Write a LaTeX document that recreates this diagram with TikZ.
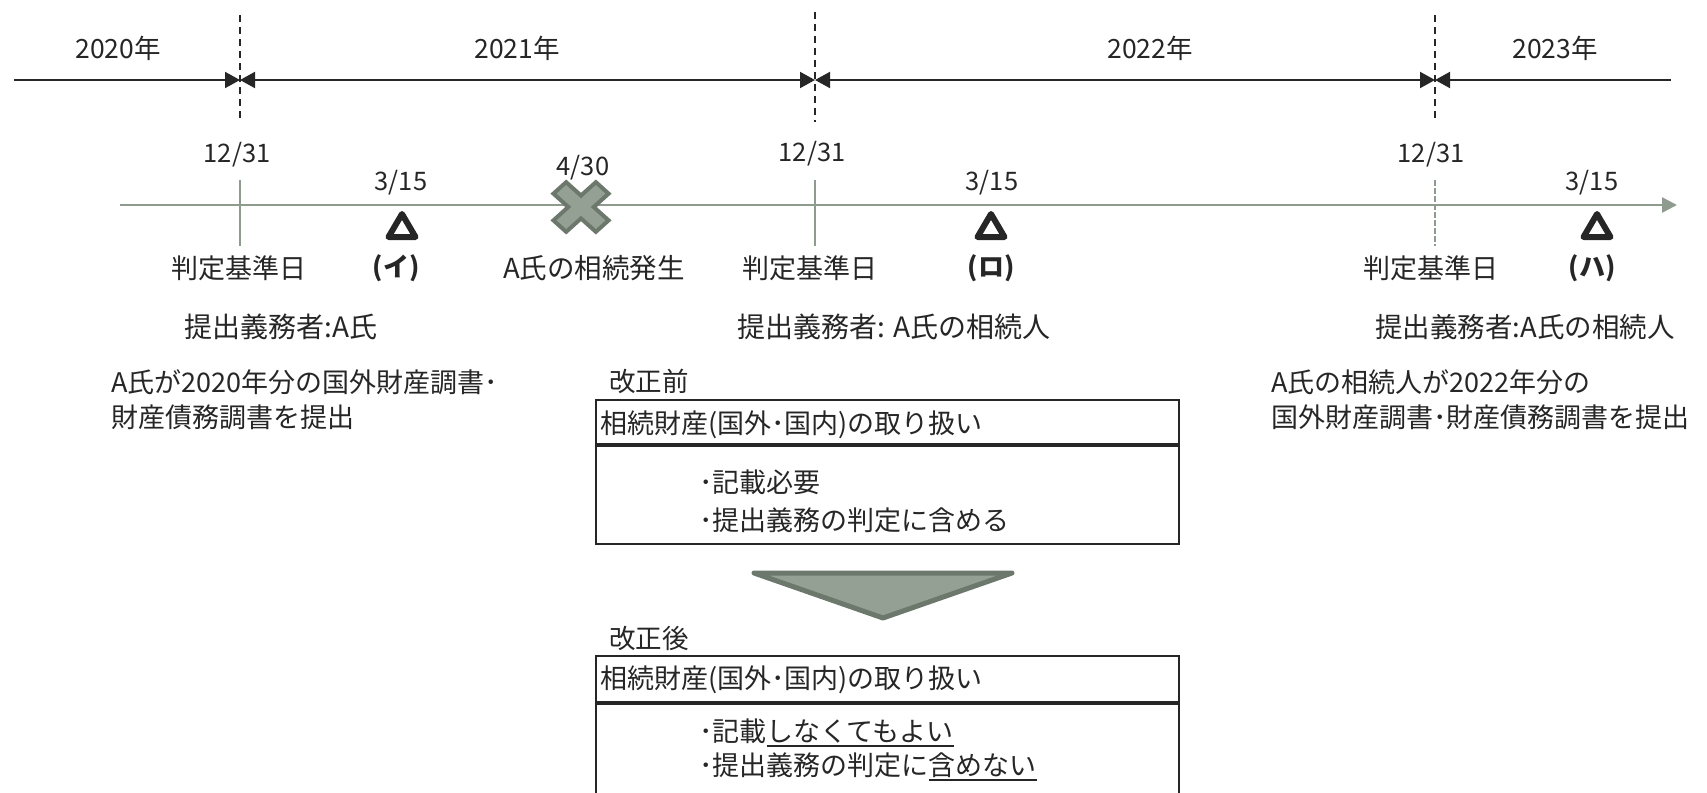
\documentclass[tikz,border=0pt]{standalone}
\usepackage{fontspec}
\setmainfont{Noto Sans CJK JP}
\usetikzlibrary{arrows.meta}
\definecolor{ink}{HTML}{262626}
\definecolor{tlc}{HTML}{8F9B8F}
\definecolor{mk}{HTML}{95A095}
\definecolor{mkd}{HTML}{6D786D}
\newcommand\myul[1]{\setbox0\hbox{#1}\rlap{\rule[-6pt]{\wd0}{2pt}}\box0}
\tikzset{ytip/.tip={Triangle[length=15pt,width=16pt]}}
\begin{document}
\begin{tikzpicture}[x=1pt,y=-1pt,
  txt/.style={inner sep=0pt, text=ink, font=\fontsize{#1}{#1}\selectfont},
  txt/.default=27,
  btxt/.style={inner sep=0pt, text=ink, font=\fontsize{26}{26}\selectfont\bfseries},
  topline/.style={draw=ink, line width=2pt},
  yeardash/.style={draw=ink, line width=1.8pt, dash pattern=on 7pt off 5pt},
  tline/.style={draw=tlc, line width=2.5pt},
  tick/.style={draw=tlc, line width=2pt},
  tri/.style={draw=ink, line width=6pt, line join=round},
  cross/.style={draw=mkd, fill=mk, line width=4pt, line join=miter},
  bigtri/.style={draw=mkd, fill=mk, line width=5pt, line join=round},
  cell/.style={draw=ink, line width=1.8pt, inner sep=0pt, minimum width=583pt}]
\useasboundingbox (0,0) rectangle (1707,792);

% year labels
\node[txt=26.5] (y2020) at (118,48) {2020年};
\node[txt=26.5] (y2021) at (517,48) {2021年};
\node[txt=26.5] (y2022) at (1150,48) {2022年};
\node[txt=26.5] (y2023) at (1555,48) {2023年};

% year boundaries
\coordinate (d1a) at (240,15);  \coordinate (d1b) at (240,122);
\coordinate (d2a) at (815,12);  \coordinate (d2b) at (815,122);
\coordinate (d3a) at (1435,15); \coordinate (d3b) at (1435,122);
\draw[yeardash] (d1a) -- (d1b);
\draw[yeardash] (d2a) -- (d2b);
\draw[yeardash] (d3a) -- (d3b);

\coordinate (s0) at (14,80);
\coordinate (s1) at (240,80);
\coordinate (s2) at (815,80);
\coordinate (s3) at (1435,80);
\coordinate (s4) at (1671,80);
\draw[topline, -{ytip}] (s0) -- (s1);
\draw[topline, {ytip}-{ytip}] (s1) -- (s2);
\draw[topline, {ytip}-{ytip}] (s2) -- (s3);
\draw[topline, {ytip}-] (s3) -- (s4);

% timeline
\coordinate (t0) at (120,205);
\coordinate (t1) at (1677,205);
\draw[tline, -{Triangle[length=15pt,width=15pt]}] (t0) -- (t1);

\coordinate (k1a) at (240,180);  \coordinate (k1b) at (240,246);
\coordinate (k2a) at (815,180);  \coordinate (k2b) at (815,246);
\coordinate (k3a) at (1435,180); \coordinate (k3b) at (1435,246);
\draw[tick] (k1a) -- (k1b);
\draw[tick] (k2a) -- (k2b);
\draw[tick, dash pattern=on 6pt off 2pt] (k3a) -- (k3b);

% dates
\node[txt=25.5] (e1) at (237,155) {12/31};
\node[txt=25.5] (e2) at (812,154) {12/31};
\node[txt=25.5] (e3) at (1431,155) {12/31};
\node[txt=25.5] (f1) at (401,183) {3/15};
\node[txt=25.5] (f2) at (992,183) {3/15};
\node[txt=25.5] (f3) at (1592,183) {3/15};
\node[txt=25.5] (g1) at (583,168) {4/30};

% markers
\draw[tri] (402,214) -- ++(13.5,23) -- ++(-27,0) -- cycle;
\draw[tri] (991,214) -- ++(13.5,23) -- ++(-27,0) -- cycle;
\draw[tri] (1597,214) -- ++(13.5,23) -- ++(-27,0) -- cycle;
\draw[cross, shift={(581,207)}, yscale=0.9, rotate=45]
  (-9,-30) -- (9,-30) -- (9,-9) -- (30,-9) -- (30,9) -- (9,9) -- (9,30)
  -- (-9,30) -- (-9,9) -- (-30,9) -- (-30,-9) -- (-9,-9) -- cycle;

% labels under the timeline
\node[txt] (j1) at (239,268) {判定基準日};
\node[txt] (j2) at (810,268) {判定基準日};
\node[txt] (j3) at (1431,268) {判定基準日};
\node[btxt] (m1) at (396,268) {(イ)};
\node[btxt] (m2) at (991,268) {(ロ)};
\node[btxt] (m3) at (1592,268) {(ハ)};
\node[txt=27.5] (death) at (594,268) {A氏の相続発生};

\node[txt=28] (p1) at (281,327) {提出義務者:A氏};
\node[txt=28] (p2) at (894,327) {提出義務者: A氏の相続人};
\node[txt=27.5] (p3) at (1525,327) {提出義務者:A氏の相続人};

\node[txt, anchor=west] (q1a) at (111,382) {A氏が2020年分の国外財産調書･};
\node[txt, anchor=west] (q1b) at (111,417) {財産債務調書を提出};
\node[txt, anchor=west] (q3a) at (1271,382) {A氏の相続人が2022年分の};
\node[txt, anchor=west] (q3b) at (1271,417) {国外財産調書･財産債務調書を提出};

% before box
\node[txt=26.5, anchor=west] (bef) at (609,381) {改正前};
\node[cell, anchor=north west, minimum height=44pt] (h1) at (595,399) {};
\node[cell, anchor=north west, minimum height=98pt] (b1) at (h1.south west) {};
\node[txt, anchor=west] (h1t) at (600,425) {相続財産(国外･国内)の取り扱い};
\node[txt, anchor=west] (b1a) at (699,482) {･記載必要};
\node[txt, anchor=west] (b1b) at (699,520) {･提出義務の判定に含める};

% arrow
\draw[bigtri] (754,573) -- (1012,573) -- (883,618) -- cycle;

% after box
\node[txt=26.5, anchor=west] (aft) at (609,638) {改正後};
\node[cell, anchor=north west, minimum height=46pt] (h2) at (595,655) {};
\node[cell, anchor=north west, minimum height=120pt] (b2) at (h2.south west) {};
\node[txt, anchor=west] (h2t) at (600,680) {相続財産(国外･国内)の取り扱い};
\node[txt, anchor=west] (b2a) at (699,733) {･記載\myul{しなくてもよい}};
\node[txt, anchor=west] (b2b) at (699,767) {･提出義務の判定に\myul{含めない}};
\end{tikzpicture}
\end{document}
